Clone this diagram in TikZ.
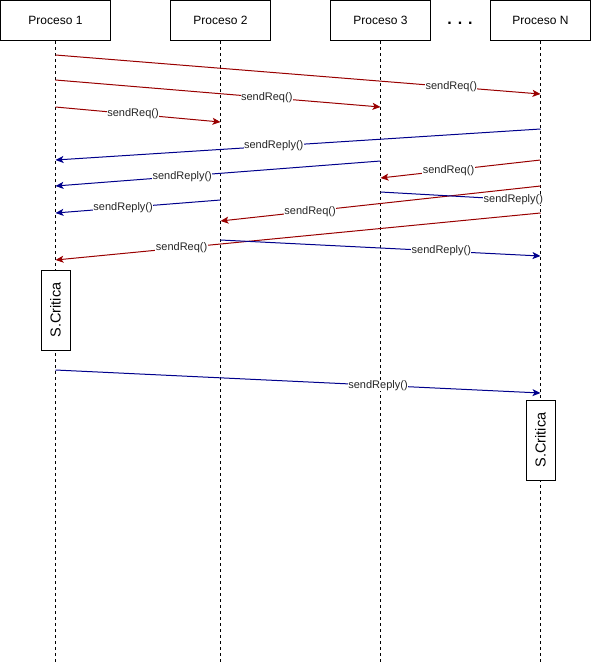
\documentclass[tikz,border=0pt]{standalone}
\usepackage{fontspec}
\setmainfont{Liberation Sans}
\usetikzlibrary{arrows.meta,positioning}
\definecolor{reqred}{RGB}{153,0,0}
\definecolor{replyblue}{RGB}{0,0,140}
\tikzset{
    proc/.style={
        rectangle,
        draw=black,
        fill=white,
        line width=1pt,
        minimum width=100pt,
        minimum height=40pt,
        font=\fontsize{12}{14}\selectfont,
    },
    crit/.style={
        rectangle,
        draw=black,
        fill=white,
        line width=1pt,
        minimum width=29pt,
        minimum height=80pt,
        inner sep=0pt,
        font=\fontsize{14.5}{16}\selectfont,
    },
    life/.style={
        draw,
        line width=1pt,
        dash pattern=on 3pt off 3pt,
    },
    req/.style={
        draw=reqred,
        -{Stealth[length=8pt,width=7pt,inset=2pt]},
        line width=1pt,
    },
    reply/.style={
        draw=replyblue,
        -{Stealth[length=8pt,width=7pt,inset=2pt]},
        line width=1pt,
    },
    msg/.style={
        fill=white,
        inner sep=0.5pt,
        text=black!85,
        font=\fontsize{11}{12}\selectfont,
    },
}
\begin{document}
\begin{tikzpicture}[x=1pt,y=-1pt]
    \useasboundingbox (0,0) rectangle (591,662);

    % Processes and lifelines
    \node [proc, minimum width=110pt] (P1) at (55.5,20.5) {Proceso 1};
    \node [proc] (P2) at (220.5,20.5) {Proceso 2};
    \node [proc] (P3) at (380.5,20.5) {Proceso 3};
    \node [proc] (PN) at (540.5,20.5) {Proceso N};
    \node [font=\fontsize{16}{16}\bfseries\selectfont] (dots) at (460,23) {. . .};

    \coordinate (P1-end) at (55.5,662);
    \coordinate (P2-end) at (220.5,662);
    \coordinate (P3-end) at (380.5,662);
    \coordinate (PN-end) at (540.5,662);

    \draw [life] (P1.south) -- (P1-end);
    \draw [life] (P2.south) -- (P2-end);
    \draw [life] (P3.south) -- (P3-end);
    \draw [life] (PN.south) -- (PN-end);

    % Message end points
    \coordinate (m1-a) at (55.5,55);   \coordinate (m1-b) at (540.5,94);
    \coordinate (m2-a) at (55.5,80);   \coordinate (m2-b) at (380.5,107);
    \coordinate (m3-a) at (55.5,107);  \coordinate (m3-b) at (220.5,122);
    \coordinate (m4-a) at (540.5,129); \coordinate (m4-b) at (55.5,160);
    \coordinate (m5-a) at (380.5,161); \coordinate (m5-b) at (55.5,186);
    \coordinate (m6-a) at (220.5,200); \coordinate (m6-b) at (55.5,213);
    \coordinate (m7-a) at (540.5,160); \coordinate (m7-b) at (380.5,178);
    \coordinate (m8-a) at (380.5,192); \coordinate (m8-b) at (540.5,201);
    \coordinate (m9-a) at (540.5,186); \coordinate (m9-b) at (220.5,221);
    \coordinate (m10-a) at (540.5,213); \coordinate (m10-b) at (55.5,260);
    \coordinate (m11-a) at (220.5,240); \coordinate (m11-b) at (540.5,256);
    \coordinate (m12-a) at (55.5,370); \coordinate (m12-b) at (540.5,393);

    % Messages
    \draw [req] (m1-a) -- node [msg, pos=0.816] {sendReq()} (m1-b);
    \draw [req] (m2-a) -- node [msg, pos=0.65] {sendReq()} (m2-b);
    \draw [req] (m3-a) -- node [msg, pos=0.47] {sendReq()} (m3-b);
    \draw [reply] (m4-a) -- node [msg, pos=0.55] {sendReply()} (m4-b);
    \draw [reply] (m5-a) -- node [msg, pos=0.61] {sendReply()} (m5-b);
    \draw [reply] (m6-a) -- node [msg, pos=0.59] {sendReply()} (m6-b);
    \draw [req] (m7-a) -- node [msg, pos=0.575] {sendReq()} (m7-b);
    \draw [req] (m9-a) -- node [msg, pos=0.72] {sendReq()} (m9-b);
    \draw [reply] (m8-a) -- node [msg, pos=0.83] {sendReply()} (m8-b);
    \draw [req] (m10-a) -- node [msg, pos=0.74] {sendReq()} (m10-b);
    \draw [reply] (m11-a) -- node [msg, pos=0.69] {sendReply()} (m11-b);
    \draw [reply] (m12-a) -- node [msg, pos=0.665] {sendReply()} (m12-b);

    % Critical sections
    \node [crit] (crit1) at (55.5,310) {\rotatebox{90}{S.Critica}};
    \node [crit] (critN) at (540.5,440) {\rotatebox{90}{S.Critica}};
\end{tikzpicture}
\end{document}
